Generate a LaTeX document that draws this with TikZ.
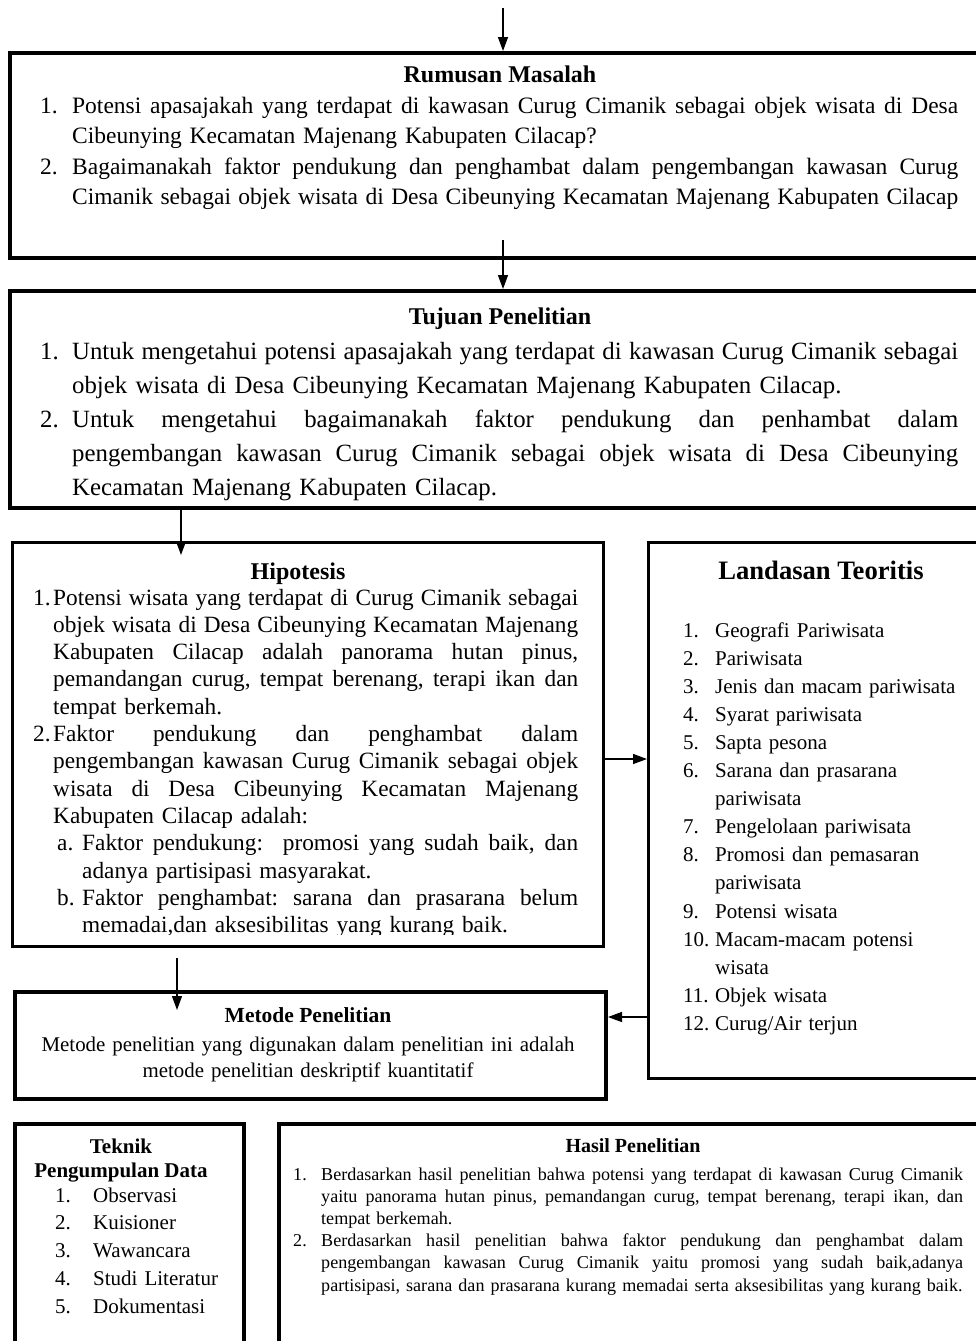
\documentclass[tikz,border=0pt]{standalone}
\usepackage{fontspec}
\setmainfont{Liberation Serif}
\usetikzlibrary{arrows.meta}
\newlength\LW
\newlength\LWa
% justified line: lead, indent, label, text
\newcommand\J[4]{\noindent\hbox to \LW{\frenchspacing\spaceskip=.25em plus .8em minus .1em\relax\hspace*{#1}\hbox to #2{#3\hfil}\LWa=\LW\advance\LWa by -#1\advance\LWa by -#2\hbox to \LWa{#4}\hss}\par}
% natural line
\newcommand\N[4]{\noindent\hbox to \LW{\hspace*{#1}\hbox to #2{#3\hfil}#4\hss}\par}
\newcommand\fs[2]{\fontsize{#1}{#2}\selectfont}
\begin{document}
\begin{tikzpicture}[x=1pt,y=-1pt,
  box/.style={draw=black,line width=#1,rectangle,inner sep=0,anchor=north west},
  box/.default=4pt,
  txt/.style={inner sep=0,anchor=base west},
  ttl/.style={inner sep=0,anchor=base},
  arr/.style={line width=1.4pt,-{Triangle[width=10pt,length=14pt]}}]
\useasboundingbox (0,0) rectangle (976,1341);
\clip (0,0) rectangle (976,1341);
% boxes
\node[box,minimum width=982pt,minimum height=205pt] (rum) at (8,51) {};
\node[box,minimum width=982pt,minimum height=217pt] (tuj) at (8,289) {};
\node[box=3pt,minimum width=591pt,minimum height=404pt] (hip) at (11,541) {};
\node[box=3pt,minimum width=343pt,minimum height=536pt] (lan) at (647,541) {};
\node[box,minimum width=591pt,minimum height=107pt] (met) at (13,990) {};
\node[box,minimum width=229pt,minimum height=240pt] (tek) at (13,1122) {};
\node[box,minimum width=713pt,minimum height=240pt] (has) at (277,1122) {};

% Rumusan Masalah
\node[ttl,font=\fs{24}{30}\bfseries] (rumH) at (500,82) {Rumusan Masalah};
\node[txt,text width=918pt,font=\fs{23.5}{30.5}] (rumT) at (40,113) {\setlength\LW{918pt}%
\J{0pt}{32pt}{1.}{Potensi apasajakah yang terdapat di kawasan Curug Cimanik sebagai objek wisata di Desa}
\N{0pt}{32pt}{}{Cibeunying Kecamatan Majenang Kabupaten Cilacap?}
\J{0pt}{32pt}{2.}{Bagaimanakah faktor pendukung dan penghambat dalam pengembangan kawasan Curug}
\J{0pt}{32pt}{}{Cimanik sebagai objek wisata di Desa Cibeunying Kecamatan Majenang Kabupaten Cilacap}};

% Tujuan Penelitian
\node[ttl,font=\fs{24}{30}\bfseries] (tujH) at (500,324) {Tujuan Penelitian};
\node[txt,text width=918pt,font=\fs{24.8}{34}] (tujT) at (40,359) {\setlength\LW{918pt}%
\J{0pt}{32pt}{1.}{Untuk mengetahui potensi apasajakah yang terdapat di kawasan Curug Cimanik sebagai}
\N{0pt}{32pt}{}{objek wisata di Desa Cibeunying Kecamatan Majenang Kabupaten Cilacap.}
\J{0pt}{32pt}{2.}{Untuk mengetahui bagaimanakah faktor pendukung dan penhambat dalam}
\J{0pt}{32pt}{}{pengembangan kawasan Curug Cimanik sebagai objek wisata di Desa Cibeunying}
\N{0pt}{32pt}{}{Kecamatan Majenang Kabupaten Cilacap.}};

% Hipotesis
\node[ttl,font=\fs{24}{30}\bfseries] (hipH) at (298,579) {Hipotesis};
\begin{scope}
\clip (11,541) rectangle (602,934);
\node[txt,text width=545pt,font=\fs{23.3}{27.3}] (hipT) at (33,605) {\setlength\LW{545pt}%
\J{0pt}{20pt}{1.}{Potensi wisata yang terdapat di Curug Cimanik sebagai}
\J{0pt}{20pt}{}{objek wisata di Desa Cibeunying Kecamatan Majenang}
\J{0pt}{20pt}{}{Kabupaten Cilacap adalah panorama hutan pinus,}
\J{0pt}{20pt}{}{pemandangan curug, tempat berenang, terapi ikan dan}
\N{0pt}{20pt}{}{tempat berkemah.}
\J{0pt}{20pt}{2.}{Faktor pendukung dan penghambat dalam}
\J{0pt}{20pt}{}{pengembangan kawasan Curug Cimanik sebagai objek}
\J{0pt}{20pt}{}{wisata di Desa Cibeunying Kecamatan Majenang}
\N{0pt}{20pt}{}{Kabupaten Cilacap adalah:}
\J{24pt}{25pt}{a.}{Faktor pendukung:\ \ promosi yang sudah baik, dan}
\N{24pt}{25pt}{}{adanya partisipasi masyarakat.}
\J{24pt}{25pt}{b.}{Faktor penghambat: sarana dan prasarana belum}
\N{24pt}{25pt}{}{memadai,dan aksesibilitas yang kurang baik.}};
\end{scope}

% Landasan Teoritis
\node[ttl,font=\fs{26.6}{32}\bfseries] (lanH) at (821,579) {Landasan Teoritis};
\node[txt,text width=290pt,font=\fs{21}{28.1}] (lanT) at (683,637) {\setlength\LW{290pt}%
\N{0pt}{32pt}{1.}{Geografi Pariwisata}
\N{0pt}{32pt}{2.}{Pariwisata}
\N{0pt}{32pt}{3.}{Jenis dan macam pariwisata}
\N{0pt}{32pt}{4.}{Syarat pariwisata}
\N{0pt}{32pt}{5.}{Sapta pesona}
\N{0pt}{32pt}{6.}{Sarana dan prasarana}
\N{0pt}{32pt}{}{pariwisata}
\N{0pt}{32pt}{7.}{Pengelolaan pariwisata}
\N{0pt}{32pt}{8.}{Promosi dan pemasaran}
\N{0pt}{32pt}{}{pariwisata}
\N{0pt}{32pt}{9.}{Potensi wisata}
\N{0pt}{32pt}{10.}{Macam-macam potensi}
\N{0pt}{32pt}{}{wisata}
\N{0pt}{32pt}{11.}{Objek wisata}
\N{0pt}{32pt}{12.}{Curug/Air terjun}};

% Metode Penelitian
\node[ttl,font=\fs{21.5}{26}\bfseries] (metH) at (308,1022) {Metode Penelitian};
\node[inner sep=0,anchor=base,text width=580pt,align=center,font=\fs{20.9}{26}] (metT) at (308,1051) {%
Metode penelitian yang digunakan dalam penelitian ini adalah\\
metode penelitian deskriptif kuantitatif};

% Teknik Pengumpulan Data
\node[inner sep=0,anchor=base,align=center,font=\fs{21}{24}\bfseries] (tekH) at (121,1177) {Teknik\\Pengumpulan Data};
\node[txt,text width=180pt,font=\fs{21}{27.75}] (tekT) at (55,1202) {\setlength\LW{180pt}%
\N{0pt}{38pt}{1.}{Observasi}
\N{0pt}{38pt}{2.}{Kuisioner}
\N{0pt}{38pt}{3.}{Wawancara}
\N{0pt}{38pt}{4.}{Studi Literatur}
\N{0pt}{38pt}{5.}{Dokumentasi}};

% Hasil Penelitian
\node[ttl,font=\fs{20}{24}\bfseries] (hasH) at (633,1152) {Hasil Penelitian};
\node[txt,text width=670pt,font=\fs{18.1}{22.2}] (hasT) at (293,1180) {\setlength\LW{670pt}%
\J{0pt}{28pt}{1.}{Berdasarkan hasil penelitian bahwa potensi yang terdapat di kawasan Curug Cimanik}
\J{0pt}{28pt}{}{yaitu panorama hutan pinus, pemandangan curug, tempat berenang, terapi ikan, dan}
\N{0pt}{28pt}{}{tempat berkemah.}
\J{0pt}{28pt}{2.}{Berdasarkan hasil penelitian bahwa faktor pendukung dan penghambat dalam}
\J{0pt}{28pt}{}{pengembangan kawasan Curug Cimanik yaitu promosi yang sudah baik,adanya}
\N{0pt}{28pt}{}{partisipasi, sarana dan prasarana kurang memadai serta aksesibilitas yang kurang baik.}};

% connectors
\coordinate (c0) at (503,8);
\draw[arr] (c0) -- (c0 |- rum.north);
\coordinate (c1) at (503,240);
\draw[arr] (c1) -- (c1 |- tuj.north);
\coordinate (c2) at (181,506);
\coordinate (c2e) at (181,555);
\draw[arr] (c2) -- (c2e);
\coordinate (c3) at (602,759);
\draw[arr] (c3) -- (c3 -| lan.west);
\coordinate (c4) at (647,1017);
\draw[arr] (c4) -- (c4 -| met.east);
\coordinate (c5) at (177,958);
\coordinate (c5e) at (177,1010);
\draw[arr] (c5) -- (c5e);
\end{tikzpicture}
\end{document}
